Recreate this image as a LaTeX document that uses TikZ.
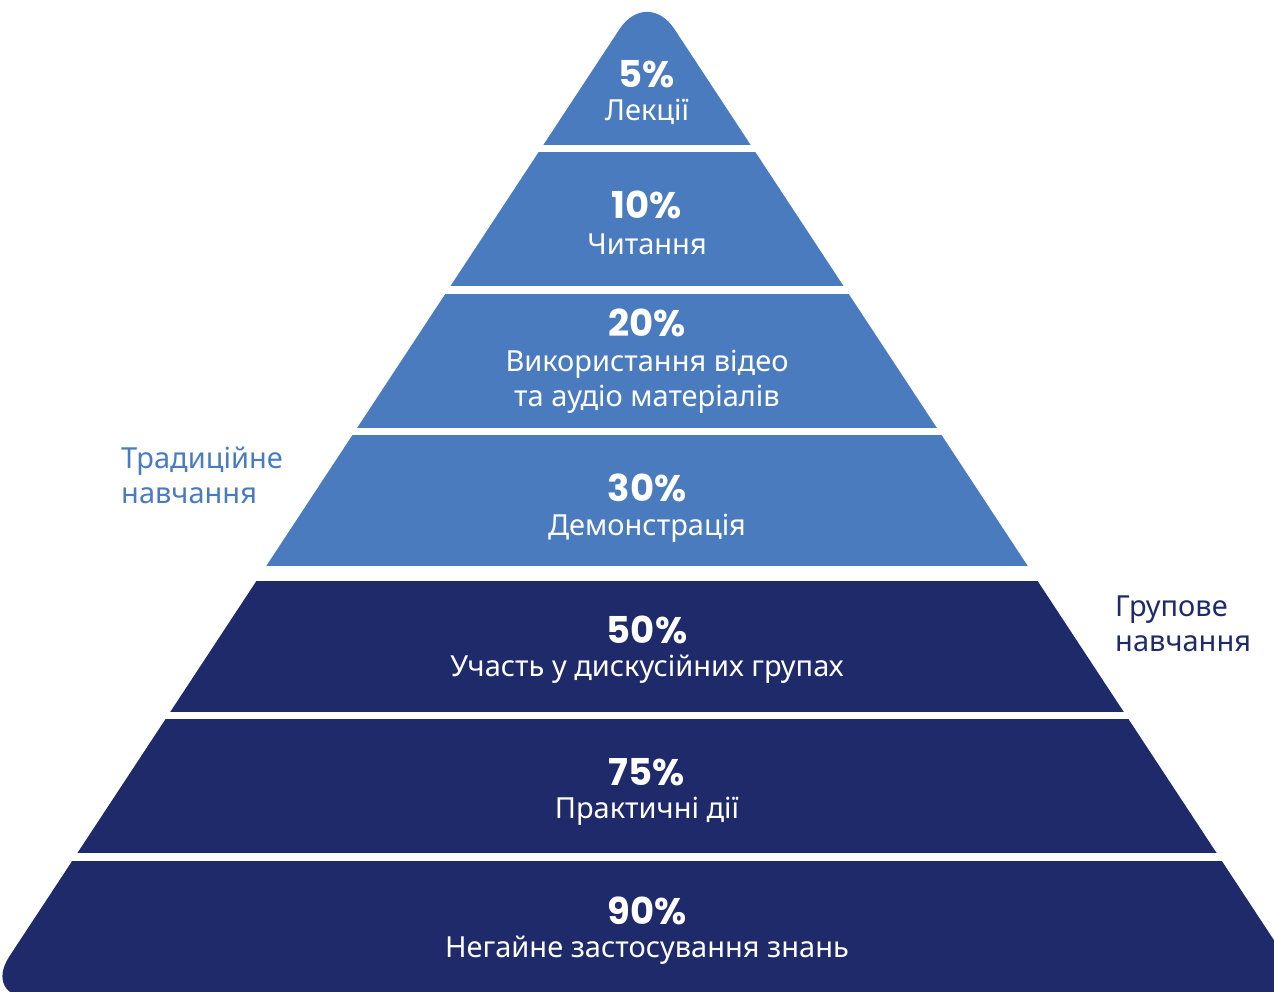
\documentclass[tikz,border=0pt]{standalone}
\usepackage{fontspec}
\setmainfont{Noto Sans}
\newfontfamily\pctfont{Poppins}
\usepackage{tikz}
\usetikzlibrary{positioning}
\definecolor{lightband}{HTML}{4A7BBF}
\definecolor{darkband}{HTML}{1F2A6B}
\tikzset{pct/.style={text=white,font=\pctfont\bfseries\fontsize{37}{37}\selectfont,inner sep=0pt}}
\tikzset{txt/.style={text=white,font=\fontsize{29}{35}\selectfont,align=center,inner sep=0pt}}
\tikzset{side/.style={font=\fontsize{29}{35}\selectfont,align=left,inner sep=0pt,anchor=west}}

\begin{document}
\begin{tikzpicture}[x=1pt,y=-1pt]
\useasboundingbox (0,0) rectangle (1274,992);

\begin{scope}
\clip[rounded corners=50pt]
(647,998) -- (-18,998) -- (647,-12.6) -- (1312,998) -- cycle;
\fill[lightband] (0,-20) rectangle (1274,145);
\fill[lightband] (0,152) rectangle (1274,286);
\fill[lightband] (0,294) rectangle (1274,428);
\fill[lightband] (0,435) rectangle (1274,566);
\fill[darkband] (0,581) rectangle (1274,712);
\fill[darkband] (0,719) rectangle (1274,853);
\fill[darkband] (0,861) rectangle (1274,1010);
\end{scope}

\node[pct] (p1) at (647,74) {5\%};
\node[txt] (t1) at (647,112) {Лекції};
\node[pct] (p2) at (647,205) {10\%};
\node[txt] (t2) at (647,244) {Читання};
\node[pct] (p3) at (647,323) {20\%};
\node[txt] (t3) at (647,382) {Використання відео\\та аудіо матеріалів};
\node[pct] (p4) at (647,488) {30\%};
\node[txt] (t4) at (647,528) {Демонстрація};
\node[pct] (p5) at (647,630) {50\%};
\node[txt] (t5) at (647,669) {Участь у дискусійних групах};
\node[pct] (p6) at (647,772) {75\%};
\node[txt] (t6) at (647,811) {Практичні дії};
\node[pct] (p7) at (647,911) {90\%};
\node[txt] (t7) at (647,950) {Негайне застосування знань};

\node[side,text=lightband] (trad) at (121,475) {Традиційне\\навчання};
\node[side,text=darkband] (group) at (1115,624) {Групове\\навчання};
\end{tikzpicture}
\end{document}
